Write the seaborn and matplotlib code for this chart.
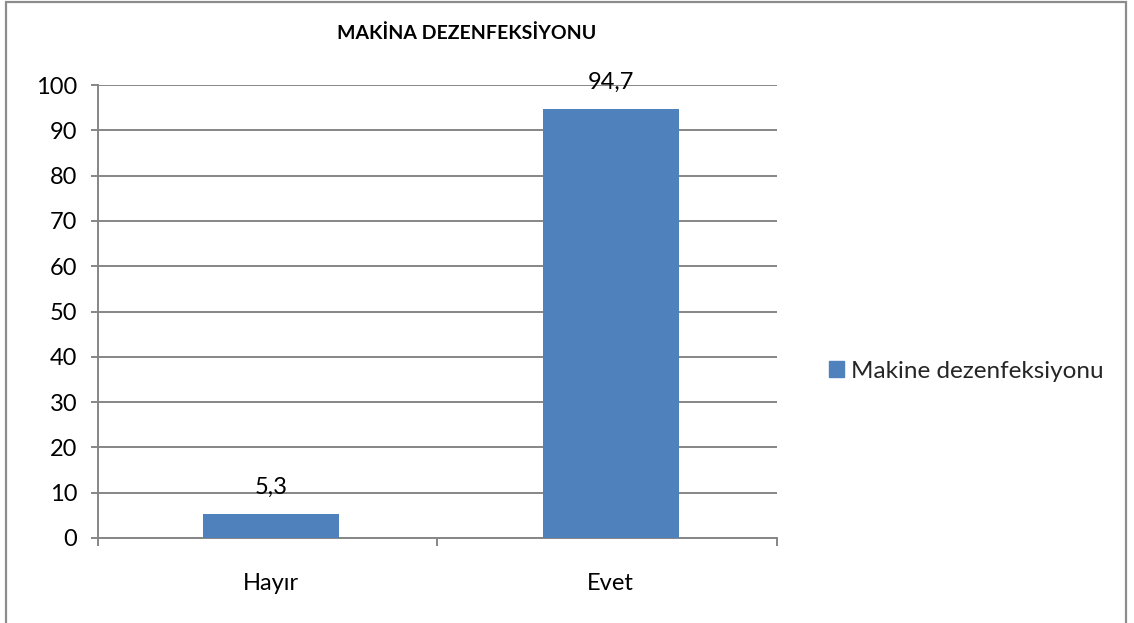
import matplotlib
matplotlib.use("Agg")
import matplotlib.pyplot as plt
import matplotlib.patches as mpatches
import seaborn as sns
import pandas as pd

categories = ["Hayır", "Evet"]
values = [5.3, 94.7]
series_name = "Makine dezenfeksiyonu"
title = "MAKİNA DEZENFEKSİYONU"
y_ticks = [0, 10, 20, 30, 40, 50, 60, 70, 80, 90, 100]

bar_color = "#4F81BD"
grid_color = "#868686"

sns.set_theme(style="white")
plt.rcParams["font.family"] = ["Lato", "DejaVu Sans"]

df = pd.DataFrame({"kategori": categories, "deger": values})

fig = plt.figure(figsize=(11.34, 6.23), dpi=100)
ax = fig.add_axes([98 / 1134, 1 - 538 / 623, (777 - 98) / 1134, (538 - 85) / 623])

sns.barplot(data=df, x="kategori", y="deger", color=bar_color, width=0.4,
            saturation=1, linewidth=0, ax=ax, zorder=3)

ax.set_ylim(0, 100)
ax.set_xlim(-0.51, 1.49)
ax.set_yticks(y_ticks)
ax.set_yticklabels([str(t) for t in y_ticks])
ax.set_xlabel("")
ax.set_ylabel("")
ax.yaxis.grid(True, color=grid_color, linewidth=1.4, zorder=0)
ax.set_axisbelow(True)

for side in ["top", "right"]:
    ax.spines[side].set_visible(False)
for side in ["left", "bottom"]:
    ax.spines[side].set_color(grid_color)
    ax.spines[side].set_linewidth(1.4)

ax.tick_params(axis="y", which="both", left=True, length=5, width=1.4,
               color=grid_color, labelsize=17, pad=10, labelcolor="black")
# category boundary ticks on the x axis
ax.set_xticks([-0.51, 0.49, 1.49], minor=True)
ax.tick_params(axis="x", which="minor", bottom=True, length=6, width=1.4,
               color=grid_color)
ax.tick_params(axis="x", which="major", bottom=False, labelsize=17, pad=19,
               labelcolor="black")

for i, v in enumerate(values):
    ax.annotate(f"{v:.1f}".replace(".", ","), xy=(i, v), xytext=(0, 19),
                textcoords="offset points", ha="center", va="center",
                fontsize=17, color="black", zorder=5)

fig.text(467 / 1134, 1 - 33 / 623, title, ha="center", va="center",
         fontsize=14, fontweight="bold", color="black")

handle = mpatches.Patch(color=bar_color, label=series_name)
fig.legend(handles=[handle], loc="center left",
           bbox_to_anchor=(829 / 1134, 1 - 371 / 623), frameon=False,
           fontsize=17.5, handlelength=0.6, handleheight=0.6,
           handletextpad=0.3, borderaxespad=0, borderpad=0)

# outer chart frame
frame = mpatches.Rectangle((6 / 1134, -0.05), (1126 - 6) / 1134, 1.05 - 2 / 623,
                           transform=fig.transFigure, fill=False,
                           edgecolor="#8C8C8C", linewidth=1.6)
fig.patches.append(frame)

fig.savefig("out.png", dpi=100, facecolor="white")
